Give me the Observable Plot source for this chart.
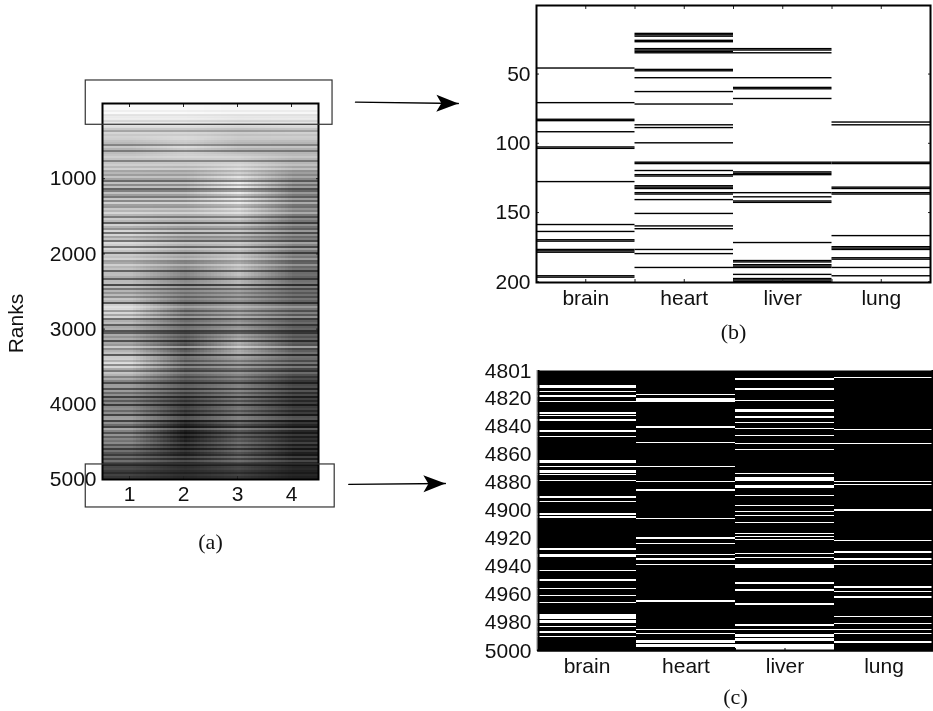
<!DOCTYPE html>
<html><head><meta charset="utf-8">
<script src="https://cdn.jsdelivr.net/npm/d3@7"></script>
<script src="https://cdn.jsdelivr.net/npm/@observablehq/plot@0.6"></script>
<style>
html,body{margin:0;padding:0;background:#fff}
#fig{position:relative;width:933px;height:711px;overflow:hidden}
#fig svg{position:absolute;background:transparent}
</style></head><body><div id="fig"></div>
<script>
// Panel (a): coarse grey level per tissue column (21 bands, top to bottom)
const level1 = [.98,.84,.76,.76,.74,.76,.78,.83,.75,.74,.70,.84,.68,.64,.84,.62,.50,.55,.55,.38,.28];
const level2 = [.98,.84,.86,.74,.74,.76,.73,.70,.62,.52,.52,.45,.45,.30,.38,.36,.26,.20,.10,.16,.20];
const level3 = [.97,.80,.76,.82,.94,.90,.78,.72,.74,.76,.62,.60,.60,.70,.52,.50,.46,.42,.36,.38,.28];
const level4 = [.97,.82,.74,.68,.60,.57,.50,.54,.44,.42,.42,.42,.38,.34,.34,.26,.22,.20,.16,.14,.16];
// Panel (a): fine horizontal stripes (0.5 = neutral), one value per about 27 ranks
const rowTone = [
.50,.53,.52,.47,.52,.45,.48,.52,.45,.53,.52,.50,.45,.35,.53,.47,.55,.52,.47,.45,.28,.55,.45,.25,.48,.52,.65,.50,.28,.55,.65,.47,.67,.40,.47,.38,.55,.40,.20,.53,.32,.52,.18,.28,.52,.38,.25,.56,.30,.66,.38,.35,.56,.45,.70,.45,.25,.55,.45,.15,.58,.42,.30,
.60,.20,.55,.35,.45,.20,.68,.52,.22,.68,.50,.18,.60,.52,.70,.38,.42,.68,.47,.55,.18,.50,.52,.45,.18,.53,.55,.10,.58,.28,.52,.38,.53,.32,.55,.45,.12,.52,.70,.55,.32,.60,.38,.68,.22,.45,.53,.18,.48,.52,.15,.20,.52,.42,.55,.15,.52,.45,.78,.38,.53,.60,.15,
.60,.58,.40,.62,.28,.65,.40,.25,.62,.52,.32,.53,.38,.15,.53,.55,.20,.58,.35,.55,.15,.53,.30,.53,.12,.52,.55,.35,.53,.15,.60,.62,.15,.53,.35,.15,.65,.45,.22,.55,.30,.53,.45,.58,.30,.55,.20,.55,.40,.25,.58,.35,.60,.45,.15,.45,.50,.38,.25,.45,.35,.40];
const rankTicks = [1000,2000,3000,4000,5000];
const columnTicks = [1,2,3,4];

// Panels (b), (c): tissue names and marked rows
const tissues = ["brain","heart","liver","lung"];
const topBrain = [46,71,83,84,92,103,104,128,159,164,170,171,177,178,179,196,197];
const topHeart = [21,22,23,26,27,32,33,34,35,47,48,53,63,72,87,89,100,114,115,120,123,124,131,132,133,136,137,141,151,160,162,177,180,190];
const topLiver = [32,33,35,53,60,61,68,114,115,121,122,123,136,139,142,143,172,185,186,188,189,190,195,198,199,200];
const topLung = [85,87,114,115,132,133,136,137,167,175,176,177,183,184,190,196];
const topTicks = [50,100,150,200];
const bottomBrain = [4812,4813,4816,4819,4823,4831,4833,4836,4844,4848,4865,4866,4869,4872,4873,4875,4879,4891,4894,4903,4905,4928,4932,4933,4943,4950,4956,4961,4966,4975,4976,4977,4979,4980,4983,4987,4990];
const bottomHeart = [4818,4821,4822,4823,4841,4852,4869,4880,4886,4906,4920,4924,4932,4935,4939,4965,4985,4988,4993,4994,4996,4997];
const bottomLiver = [4807,4814,4822,4829,4830,4834,4838,4842,4847,4853,4857,4874,4877,4878,4879,4883,4884,4890,4897,4901,4904,4909,4917,4919,4921,4931,4934,4939,4940,4941,4952,4957,4967,4982,4985,4989,4990,4992,4993,4996,4997,4998,4999,5000];
const bottomLung = [4806,4843,4853,4880,4882,4900,4922,4930,4935,4939,4955,4958,4962,4976,4981,4985,4988,4994];
const bottomTicks = [4801,4820,4840,4860,4880,4900,4920,4940,4960,4980,5000];

const fig = document.getElementById("fig");
const ink = "#111";
const sans = "Liberation Sans, Arial, sans-serif";
const serif = "Liberation Serif, serif";
const plain = d=>String(d);

function place(svg,left,top){svg.style.left=left+"px";svg.style.top=top+"px";fig.appendChild(svg);}

// Filled arrow head
function stealth(color){
  return d3.create("svg:marker")
    .attr("viewBox","-23 -9 24 18").attr("markerWidth",24).attr("markerHeight",18)
    .attr("markerUnits","userSpaceOnUse").attr("orient","auto")
    .call(m=>m.append("path").attr("d","M0,0L-22,-8.5L-17,0L-22,8.5Z").attr("fill","#000").attr("stroke","none"))
    .node();
}

// Panel (a) with annotations
const landscape = level1.flatMap((_,i)=>[level1[i],level2[i],level3[i],level4[i]]);
const zoomBoxes = [{x1:.19,x2:4.76,y1:-306,y2:283},{x1:.19,x2:4.8,y1:4800,y2:5372}];
const arrows = [
 [{x:5.185,y:-17,g:"b"},{x:7.09,y:0,g:"b"}],
 [{x:5.06,y:5066,g:"c"},{x:6.85,y:5053,g:"c"}]
].flat();
place(Plot.plot({
  width:933,height:711,marginLeft:102,marginRight:615,marginTop:103,marginBottom:232,
  style:{fontFamily:sans,fontSize:"21px",color:ink,background:"transparent"},
  x:{domain:[.5,4.5]},y:{domain:[0,5000],reverse:true},
  color:{type:"linear",domain:[0,1],range:["#000","#fff"]},
  marks:[
    Plot.raster(landscape,{width:4,height:level1.length,x1:.5,x2:4.5,y1:0,y2:5000}),
    Plot.raster(rowTone,{width:1,height:rowTone.length,x1:.5,x2:4.5,y1:0,y2:5000,mixBlendMode:"hard-light",imageRendering:"pixelated",opacity:.75}),
    Plot.axisY(rankTicks,{anchor:"left",tickSize:-3,tickPadding:9,stroke:"#222",tickFormat:plain}),
    Plot.axisY(rankTicks,{anchor:"right",tickSize:-3,fill:"none",stroke:"#222"}),
    Plot.axisX(columnTicks,{anchor:"bottom",tickSize:-3,tickPadding:10,stroke:"#222",tickFormat:plain}),
    Plot.axisX(columnTicks,{anchor:"top",tickSize:-3,fill:"none",stroke:"#222"}),
    Plot.frame({stroke:"#000",strokeWidth:2}),
    Plot.rect(zoomBoxes,{x1:"x1",x2:"x2",y1:"y1",y2:"y2",fill:"none",stroke:"#333",strokeWidth:1.2}),
    Plot.line(arrows,{x:"x",y:"y",z:"g",stroke:"#000",strokeWidth:1.3,markerEnd:stealth}),
    Plot.text(["Ranks"],{x:-1.09,y:2926,rotate:-90}),
    Plot.text(["(a)"],{x:2.5,y:5824,fontFamily:serif,fontSize:22})
  ]
}),0,0);

function rows(lists){return lists.flatMap((l,i)=>l.map(r=>({col:i+1,r})));}
const halfTicks = [1,1.5,2,2.5,3,3.5,4];

// Panel (b)
place(Plot.plot({
  width:463,height:350,marginLeft:66,marginRight:3,marginTop:5,marginBottom:68,
  style:{fontFamily:sans,fontSize:"21px",color:ink,background:"transparent"},
  x:{domain:[.5,4.5]},y:{domain:[.5,200.5],reverse:true},
  marks:[
    Plot.rect(rows([topBrain,topHeart,topLiver,topLung]),{x1:d=>d.col-.5,x2:d=>d.col+.5,y1:d=>d.r-.5,y2:d=>d.r+.5,fill:"#000"}),
    Plot.axisY(topTicks,{anchor:"left",tickSize:-3,tickPadding:9,stroke:"#222",tickFormat:plain}),
    Plot.axisY(topTicks,{anchor:"right",tickSize:-3,fill:"none",stroke:"#222"}),
    Plot.axisX(halfTicks,{anchor:"bottom",tickSize:-3,fill:"none",stroke:"#222"}),
    Plot.axisX(halfTicks,{anchor:"top",tickSize:-3,fill:"none",stroke:"#222"}),
    Plot.axisX(columnTicks,{anchor:"bottom",tickSize:0,tickPadding:8,tickFormat:d=>tissues[d-1]}),
    Plot.frame({stroke:"#000",strokeWidth:2}),
    Plot.text(["(b)"],{x:2.5,y:236,fontFamily:serif,fontSize:22})
  ]
}),470,0);

// Panel (c)
place(Plot.plot({
  width:463,height:351,marginLeft:67,marginRight:0,marginTop:10,marginBottom:60,
  style:{fontFamily:sans,fontSize:"21px",color:ink,background:"transparent"},
  x:{domain:[.5,4.5]},y:{domain:[4800.5,5000.5],reverse:true},
  marks:[
    Plot.frame({fill:"#000"}),
    Plot.rect(rows([bottomBrain,bottomHeart,bottomLiver,bottomLung]),{x1:d=>d.col-.5,x2:d=>d.col+.5,y1:d=>d.r-.5,y2:d=>d.r+.5,fill:"#fff",shapeRendering:"crispEdges"}),
    Plot.ruleX([.5],{stroke:"#000",strokeWidth:2,dx:1}),
    Plot.ruleX([.5],{stroke:"#888",strokeWidth:1,dx:-.5}),
    Plot.ruleX([4.5],{stroke:"#000",strokeWidth:2,dx:-1}),
    Plot.ruleY([5000.5],{stroke:"#000",strokeWidth:2,dy:-1}),
    Plot.axisY(bottomTicks,{anchor:"left",tickSize:0,tickPadding:6,tickFormat:plain}),
    Plot.axisX(halfTicks,{anchor:"bottom",tickSize:-3,fill:"none",stroke:"#000"}),
    Plot.axisX(columnTicks,{anchor:"bottom",tickSize:0,tickPadding:7,tickFormat:d=>tissues[d-1]}),
    Plot.text(["(c)"],{x:2.5,y:5033,fontFamily:serif,fontSize:22})
  ]
}),470,360);
</script></body></html>
